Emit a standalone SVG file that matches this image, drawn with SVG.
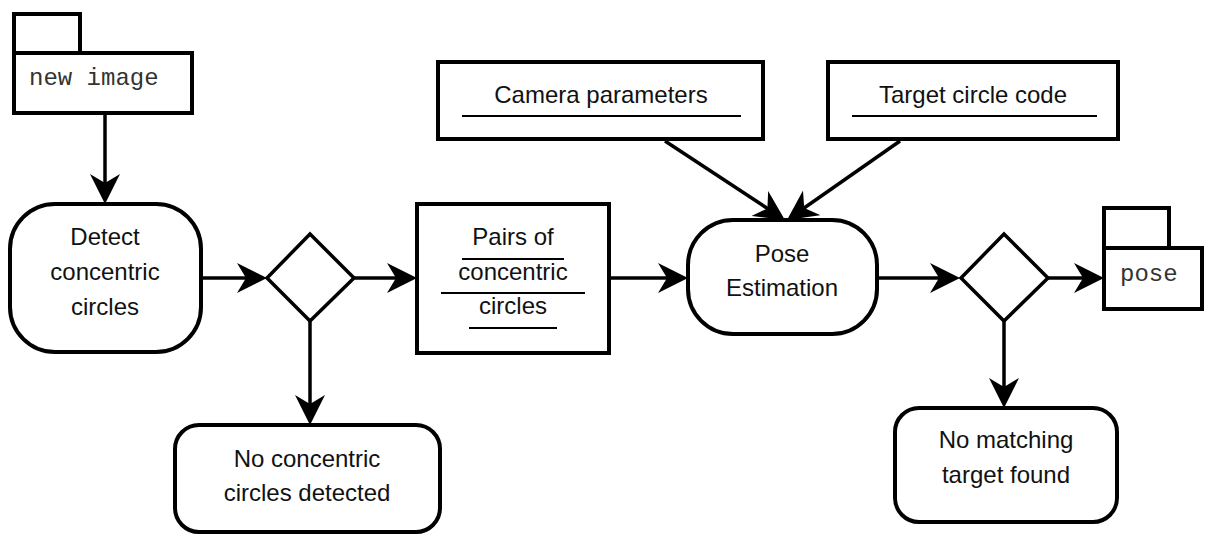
<svg xmlns="http://www.w3.org/2000/svg" width="1219" height="534" viewBox="0 0 1219 534">
<style>
.box{fill:#fff;stroke:#000;stroke-width:4}
.dia{fill:#fff;stroke:#000;stroke-width:3.5}
.t{font-family:"Liberation Sans",Arial,sans-serif;font-size:24px;fill:#111;text-anchor:middle}
.m{font-family:"Liberation Mono","Courier New",monospace;font-size:24px;fill:#333}
.ul{stroke:#000;stroke-width:2}
.c{fill:none;stroke:#000;stroke-width:3.5;marker-end:url(#ah)}
</style>
<defs>
<marker id="ah" viewBox="0 0 30 30" refX="20" refY="15" markerWidth="30" markerHeight="30" markerUnits="userSpaceOnUse" orient="auto">
<path d="M0,0 L30,15 L0,30 L9,15 Z" fill="#000"/>
</marker>
</defs>
<rect width="1219" height="534" fill="#fff"/>
<g id="connectors">
<line class="c" x1="105" y1="113" x2="105" y2="194"/>
<line class="c" x1="201" y1="278" x2="257" y2="278"/>
<line class="c" x1="310" y1="321" x2="310" y2="415"/>
<line class="c" x1="354" y1="278" x2="407" y2="278"/>
<line class="c" x1="609" y1="278" x2="678" y2="278"/>
<line class="c" x1="665" y1="141" x2="776.6" y2="214.5"/>
<line class="c" x1="900" y1="141" x2="795.2" y2="214.3"/>
<line class="c" x1="877" y1="278" x2="950" y2="278"/>
<line class="c" x1="1048" y1="278" x2="1094" y2="278"/>
<line class="c" x1="1004" y1="321" x2="1004" y2="398"/>
</g>
<g id="new-image">
<rect class="box" x="14" y="14" width="66" height="39"/>
<rect class="box" x="14" y="53" width="178" height="60"/>
<text class="m" x="29" y="85">new image</text>
</g>
<g id="detect">
<rect class="box" x="10" y="204" width="191" height="148" rx="45" ry="45"/>
<text class="t" x="105" y="245">Detect</text>
<text class="t" x="105" y="280">concentric</text>
<text class="t" x="105" y="315">circles</text>
</g>
<g id="decision1">
<polygon class="dia" points="310,234 354,278 310,321 267,278"/>
</g>
<g id="no-concentric">
<rect class="box" x="175" y="425" width="265" height="107" rx="24" ry="24"/>
<text class="t" x="307" y="467">No concentric</text>
<text class="t" x="307" y="501">circles detected</text>
</g>
<g id="pairs">
<rect class="box" x="417" y="204" width="192" height="149"/>
<text class="t" x="513" y="245">Pairs of</text>
<line class="ul" x1="462" y1="259" x2="564" y2="259"/>
<text class="t" x="513" y="280">concentric</text>
<line class="ul" x1="441" y1="293" x2="585" y2="293"/>
<text class="t" x="513" y="314">circles</text>
<line class="ul" x1="469" y1="328" x2="557" y2="328"/>
</g>
<g id="camera">
<rect class="box" x="438" y="62" width="325" height="77"/>
<text class="t" x="601" y="103">Camera parameters</text>
<line class="ul" x1="462" y1="116" x2="741" y2="116"/>
</g>
<g id="target">
<rect class="box" x="828" y="62" width="290" height="77"/>
<text class="t" x="973" y="103">Target circle code</text>
<line class="ul" x1="852" y1="116" x2="1097" y2="116"/>
</g>
<g id="pose-estimation">
<rect class="box" x="688" y="220" width="189" height="114" rx="45" ry="45"/>
<text class="t" x="782" y="262">Pose</text>
<text class="t" x="782" y="296">Estimation</text>
</g>
<g id="decision2">
<polygon class="dia" points="1004,234 1048,278 1004,321 961,278"/>
</g>
<g id="pose">
<rect class="box" x="1104" y="208" width="65" height="40"/>
<rect class="box" x="1104" y="248" width="98" height="61"/>
<text class="m" x="1120" y="281">pose</text>
</g>
<g id="no-matching">
<rect class="box" x="895" y="408" width="222" height="114" rx="24" ry="24"/>
<text class="t" x="1006" y="448">No matching</text>
<text class="t" x="1006" y="483">target found</text>
</g>
</svg>
